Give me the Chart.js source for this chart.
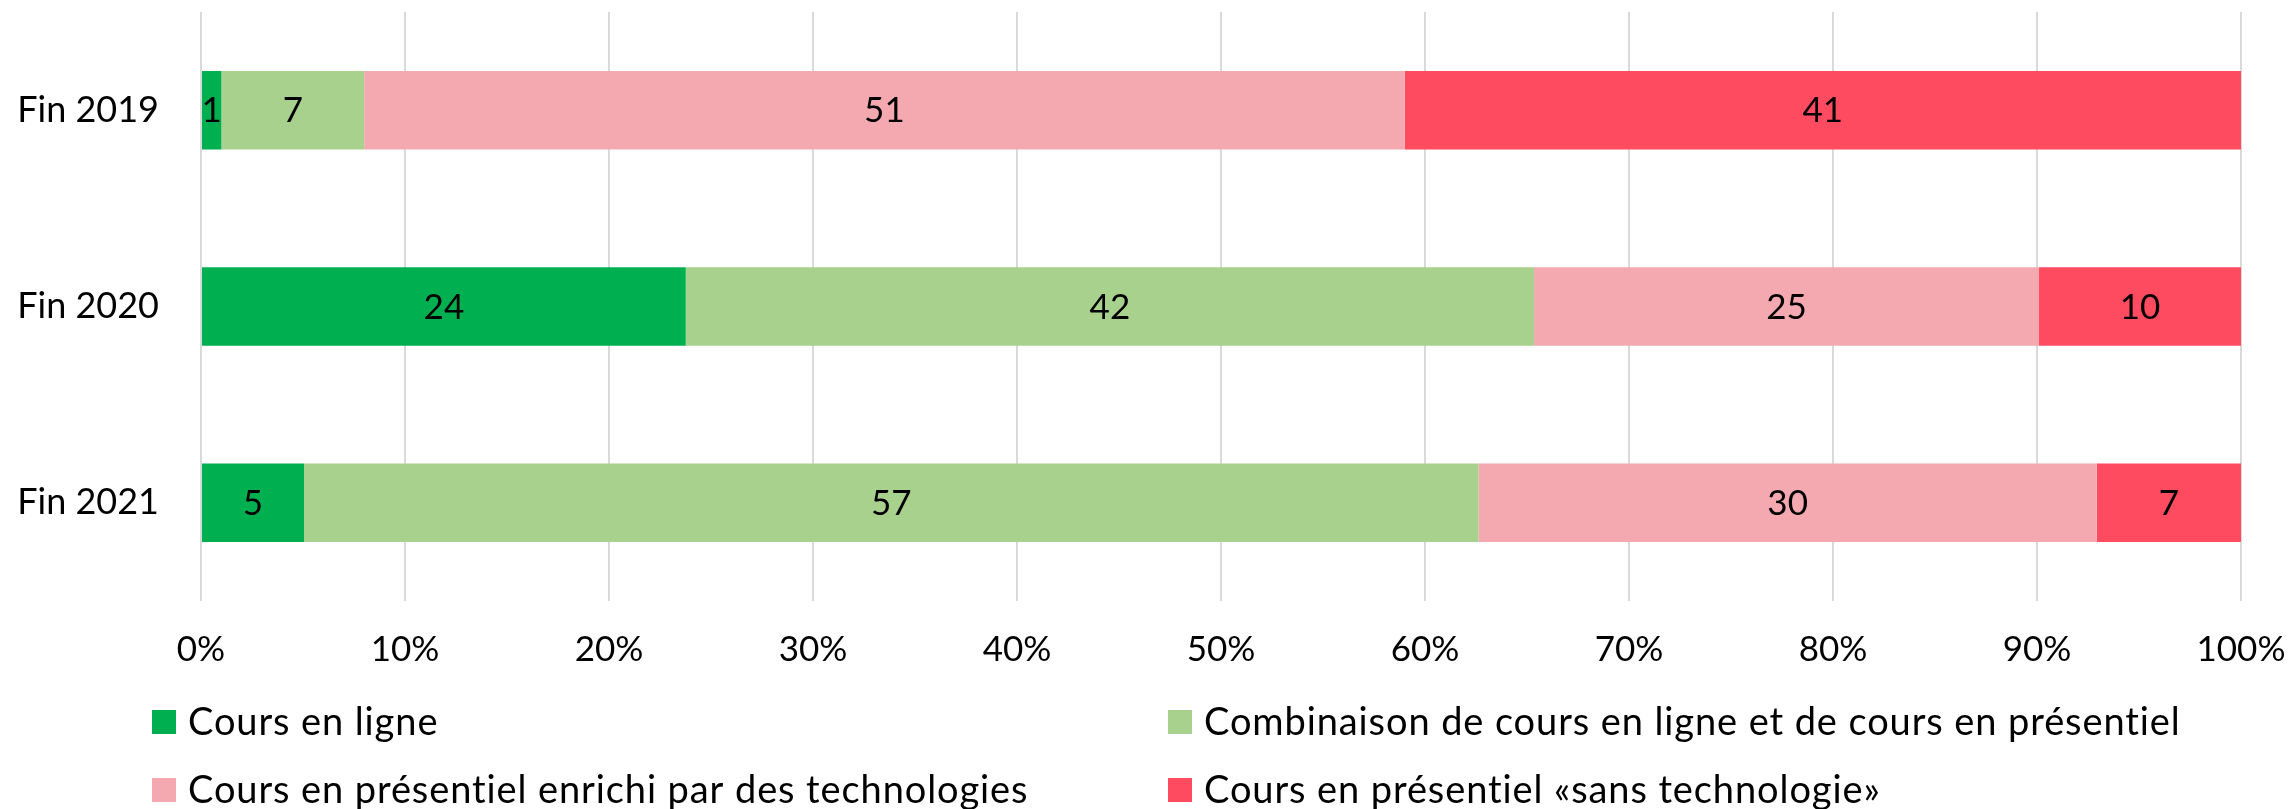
<!DOCTYPE html>
<html>
<head>
<meta charset="utf-8">
<script src="https://cdn.jsdelivr.net/npm/chart.js@4.4.1/dist/chart.umd.min.js"></script>
<style>
  html, body { margin: 0; padding: 0; background: #fff; }
  #wrap { width: 2290px; height: 809px; position: relative; }
</style>
</head>
<body>
<div id="wrap"><canvas id="c" width="2290" height="809"></canvas></div>
<script>
const categories = ["Fin 2019", "Fin 2020", "Fin 2021"];
const seriesNames = [
  "Cours en ligne",
  "Combinaison de cours en ligne et de cours en présentiel",
  "Cours en présentiel enrichi par des technologies",
  "Cours en présentiel «sans technologie»"
];
const coursEnLigne = [1, 24, 5];
const combinaison = [7, 42, 57];
const enrichi = [51, 25, 30];
const sansTechno = [41, 10, 7];
const seriesColors = ["#00B050", "#A9D18E", "#F4A9B0", "#FF4B5F"];
const xTicks = [0, 10, 20, 30, 40, 50, 60, 70, 80, 90, 100];

const rawSeries = [coursEnLigne, combinaison, enrichi, sansTechno];
const totals = categories.map((_, i) => rawSeries.reduce((s, arr) => s + arr[i], 0));

const datasets = rawSeries.map((arr, k) => ({
  label: seriesNames[k],
  data: arr.map((v, i) => v / totals[i] * 100),
  raw: arr,
  backgroundColor: seriesColors[k],
  borderWidth: 0,
  barPercentage: 0.4,
  categoryPercentage: 1.0
}));

const FONT = "Lato, 'Liberation Sans', sans-serif";

const valueLabels = {
  id: 'valueLabels',
  afterDatasetsDraw(chart) {
    const ctx = chart.ctx;
    ctx.save();
    ctx.font = "35px " + FONT;
    ctx.fillStyle = "#000";
    ctx.textAlign = "center";
    ctx.textBaseline = "middle";
    chart.data.datasets.forEach((ds, di) => {
      const meta = chart.getDatasetMeta(di);
      meta.data.forEach((bar, i) => {
        const cx = (bar.x + bar.base) / 2;
        ctx.fillText(String(ds.raw[i]), cx, bar.y + 1);
      });
    });
    ctx.restore();
  }
};

const customLegend = {
  id: 'customLegend',
  afterDraw(chart) {
    const ctx = chart.ctx;
    const cols = [152, 1168];
    const rows = [722, 790];
    ctx.save();
    ctx.font = "38px " + FONT;
    ctx.textBaseline = "middle";
    ctx.textAlign = "left";
    chart.data.datasets.forEach((ds, i) => {
      const x = cols[i % 2];
      const y = rows[Math.floor(i / 2)];
      ctx.fillStyle = ds.backgroundColor;
      ctx.fillRect(x, y - 12, 24, 24);
      ctx.fillStyle = "#000";
      try { ctx.letterSpacing = "0.9px"; } catch (e) {}
      ctx.fillText(ds.label, x + 36, y + 1);
      try { ctx.letterSpacing = "0px"; } catch (e) {}
    });
    ctx.restore();
  }
};

function noAutoPad(scale) {
  scale.paddingTop = 0; scale.paddingBottom = 0;
  scale.paddingLeft = 0; scale.paddingRight = 0;
}

new Chart(document.getElementById('c'), {
  type: 'bar',
  data: { labels: categories, datasets },
  options: {
    indexAxis: 'y',
    responsive: false,
    animation: false,
    devicePixelRatio: 1,
    layout: { autoPadding: false, padding: { left: 0, right: 49, top: 12, bottom: 128 } },
    plugins: { legend: { display: false }, tooltip: { enabled: false } },
    scales: {
      x: {
        stacked: true,
        min: 0, max: 100,
        afterBuildTicks(scale) { scale.ticks = xTicks.map(v => ({ value: v })); },
        afterFit(scale) { scale.height = 80; noAutoPad(scale); },
        grid: { color: '#D9D9D9', lineWidth: 2, drawTicks: false },
        border: { display: false },
        ticks: {
          padding: 28,
          color: '#000',
          font: { family: FONT, size: 35 },
          callback: v => v + '%',
          maxRotation: 0
        }
      },
      y: {
        stacked: true,
        afterFit(scale) { scale.width = 201; noAutoPad(scale); },
        grid: { display: false, drawTicks: false },
        border: { display: false },
        ticks: {
          padding: 42,
          color: '#000',
          font: { family: FONT, size: 36 }
        }
      }
    }
  },
  plugins: [valueLabels, customLegend]
});
</script>
</body>
</html>
